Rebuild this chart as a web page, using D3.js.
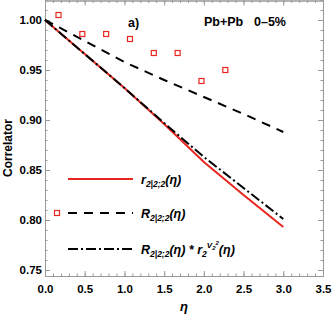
<!DOCTYPE html>
<html>
<head>
<meta charset="utf-8">
<script src="https://cdn.jsdelivr.net/npm/d3@7.9.0/dist/d3.min.js"></script>
<style>
  body { margin: 0; background: #fff; }
  svg { font-family: "Liberation Sans", Arial, sans-serif; }
  .axis text { font-size: 11.5px; font-weight: bold; fill: #000; }
  .axis path, .axis line { stroke: #999; }
</style>
</head>
<body>
<svg id="chart" width="332" height="314"></svg>
<script>
// eta grid of the model curves
const etaGrid = [0, 0.5, 1.0, 1.5, 2.0, 2.5, 3.0];
const rSolid = [1.0, 0.966, 0.932, 0.896, 0.858, 0.825, 0.793];
const rDashed = [1.0, 0.979, 0.958, 0.940, 0.923, 0.906, 0.888];
const rDashDot = [1.0, 0.966, 0.932, 0.897, 0.863, 0.832, 0.801];

// data points (open squares)
const etaData = [0.17, 0.47, 0.77, 1.07, 1.37, 1.67, 1.97, 2.27];
const corrData = [1.005, 0.986, 0.986, 0.981, 0.967, 0.967, 0.939, 0.950];

const xTicks = [0, 0.5, 1.0, 1.5, 2.0, 2.5, 3.0, 3.5];
const yTicks = [0.75, 0.80, 0.85, 0.90, 0.95, 1.00];

const red = '#e8261f';

const svg = d3.select('#chart');
const x = d3.scaleLinear().domain([0, 3.5]).range([45, 323]);
const y = d3.scaleLinear().domain([0.744, 1.02]).range([276, 0]);

const xMinor = d3.range(0, 3.51, 0.1).map((d) => +d.toFixed(2));
const yMinor = d3.range(0.75, 1.021, 0.01).map((d) => +d.toFixed(3));

// major + minor ticks on all four sides, pointing inward
function addAxis(axisFn, scale, ticks, minor, transform, fmt, pad) {
  svg.append('g').attr('class', 'axis').attr('transform', transform)
    .call(axisFn(scale).tickValues(minor).tickSizeInner(-2.5).tickSizeOuter(0).tickFormat(''));
  svg.append('g').attr('class', 'axis').attr('transform', transform)
    .call(axisFn(scale).tickValues(ticks).tickSizeInner(-5).tickSizeOuter(0)
      .tickPadding(pad).tickFormat(fmt));
}
addAxis(d3.axisBottom, x, xTicks, xMinor, 'translate(0,276)', d3.format('.1f'), 9);
addAxis(d3.axisTop, x, xTicks, xMinor, 'translate(0,0.5)', '', 0);
addAxis(d3.axisLeft, y, yTicks, yMinor, 'translate(45,0)', d3.format('.2f'), 3);
addAxis(d3.axisRight, y, yTicks, yMinor, 'translate(323,0)', '', 0);

// axis titles
svg.append('text')
  .attr('transform', 'translate(12,148) rotate(-90)')
  .attr('text-anchor', 'middle')
  .attr('font-size', 12).attr('font-weight', 'bold')
  .text('Correlator');
svg.append('text')
  .attr('x', 184).attr('y', 311)
  .attr('text-anchor', 'middle')
  .attr('font-size', 13).attr('font-weight', 'bold').attr('font-style', 'italic')
  .text('η');

// curves
const line = d3.line().x((d) => x(d[0])).y((d) => y(d[1]));
const curves = [
  { vals: rSolid, color: red, dash: null },
  { vals: rDashed, color: '#000', dash: '9,7' },
  { vals: rDashDot, color: '#000', dash: '10,3,2,3' },
];
curves.forEach((c) => {
  svg.append('path')
    .datum(etaGrid.map((e, i) => [e, c.vals[i]]))
    .attr('d', line)
    .attr('fill', 'none')
    .attr('stroke', c.color)
    .attr('stroke-width', 2)
    .attr('stroke-dasharray', c.dash);
});

// data squares
svg.selectAll('rect.pt')
  .data(etaData.map((e, i) => [e, corrData[i]]))
  .join('rect')
  .attr('class', 'pt')
  .attr('x', (d) => x(d[0]) - 2.5)
  .attr('y', (d) => y(d[1]) - 2.5)
  .attr('width', 5).attr('height', 5)
  .attr('fill', 'none').attr('stroke', red).attr('stroke-width', 1.2);

// annotations
svg.append('text').attr('x', 128).attr('y', 27)
  .attr('font-size', 12.5).attr('font-weight', 'bold').text('a)');
svg.append('text').attr('x', 204).attr('y', 26)
  .attr('font-size', 12.5).attr('font-weight', 'bold').text('Pb+Pb');
svg.append('text').attr('x', 254).attr('y', 26)
  .attr('font-size', 12.5).attr('font-weight', 'bold').text('0\u20135%');

// legend
const lg = svg.append('g');
const legendRows = [
  { yy: 179, color: red, dash: null },
  { yy: 213, color: '#000', dash: '9,7' },
  { yy: 249, color: '#000', dash: '10,3,2,3' },
];
legendRows.forEach((r) => {
  lg.append('line').attr('x1', 68).attr('x2', 133)
    .attr('y1', r.yy).attr('y2', r.yy)
    .attr('stroke', r.color).attr('stroke-width', 2)
    .attr('stroke-dasharray', r.dash);
});
lg.append('rect').attr('x', 54.5).attr('y', 210.5).attr('width', 5).attr('height', 5)
  .attr('fill', 'none').attr('stroke', red).attr('stroke-width', 1.2);

function legendText(yy, parts) {
  const t = lg.append('text').attr('x', 141).attr('y', yy + 4.5)
    .attr('font-size', 12.5).attr('font-style', 'italic').attr('font-weight', 'bold');
  parts.forEach((p) => {
    const s = t.append('tspan').text(p.t);
    if (p.size) s.attr('font-size', p.size);
    if (p.dy) s.attr('dy', p.dy);
  });
}
legendText(179, [{ t: 'r' }, { t: '2|2;2', size: 8.5, dy: 3 }, { t: '(η)', dy: -3 }]);
legendText(213, [{ t: 'R' }, { t: '2|2;2', size: 8.5, dy: 3 }, { t: '(η)', dy: -3 }]);
legendText(249, [
  { t: 'R' }, { t: '2|2;2', size: 8.5, dy: 3 }, { t: '(η) * r', dy: -3 },
  { t: '2', size: 8.5, dy: 3 }, { t: 'V', size: 8, dy: -9 }, { t: '2', size: 6, dy: 2 },
  { t: '2', size: 6, dy: -5 }, { t: '(η)', dy: 9 },
]);
</script>
</body>
</html>
